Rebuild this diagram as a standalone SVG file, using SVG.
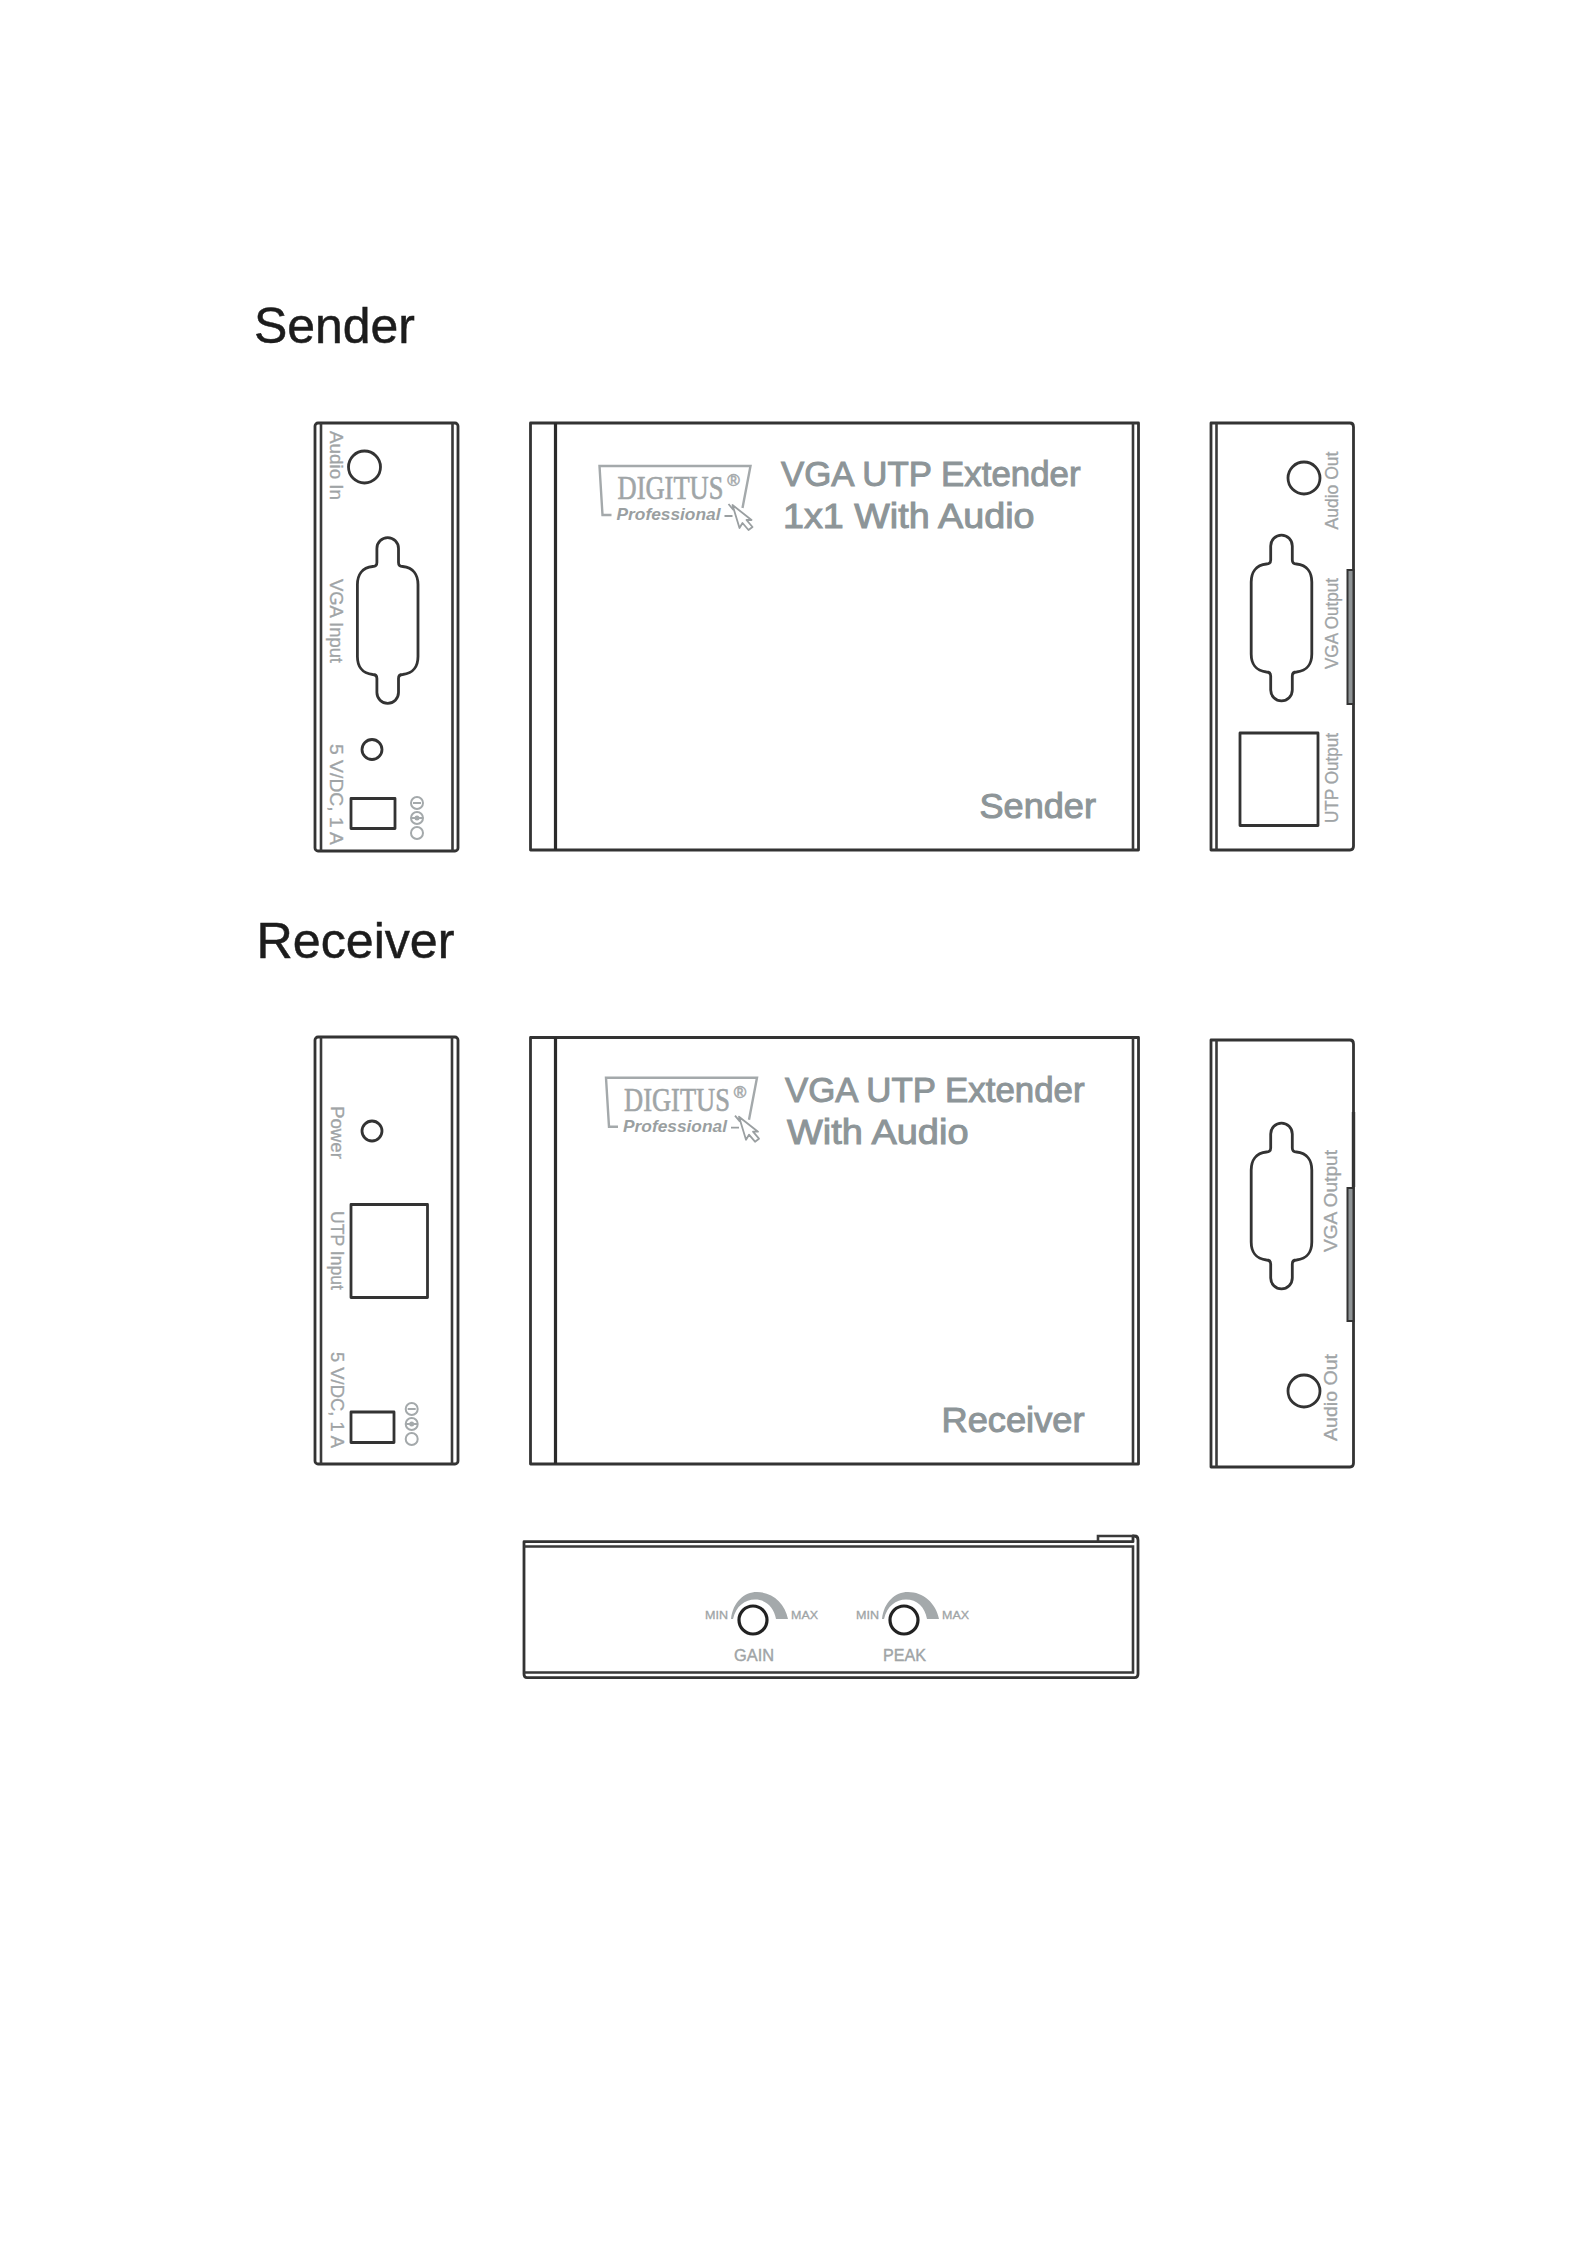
<svg xmlns="http://www.w3.org/2000/svg" xmlns:xlink="http://www.w3.org/1999/xlink" width="1587" height="2245" viewBox="0 0 1587 2245">
<style>
.l{fill:none;stroke:#333;stroke-width:2.8;stroke-linejoin:round}
.t{fill:none;stroke:#3a3a3a;stroke-width:2.6}
.s{fill:#8f9496;stroke:#333;stroke-width:2}
.h{font-family:"Liberation Sans",Arial,sans-serif;font-size:49.500px;fill:#1c1c1c;stroke:#1c1c1c;stroke-width:.5}
.c{font-family:"Liberation Sans",Arial,sans-serif;font-size:18px;fill:#a0a4a6;stroke:#a0a4a6;stroke-width:.3}
.b{font-family:"Liberation Sans",Arial,sans-serif;font-size:35px;fill:#8d9598;stroke:#8d9598;stroke-width:1}
.m{font-family:"Liberation Sans",Arial,sans-serif;font-size:11.5px;fill:#a0a4a6;stroke:#a0a4a6;stroke-width:.3}
.k{font-family:"Liberation Sans",Arial,sans-serif;font-size:17px;fill:#a0a4a6;stroke:#a0a4a6;stroke-width:.4}
.g{fill:none;stroke:#a4a9ab;stroke-width:2}
</style>
<defs>
<path id="db9" class="l" d="M-10.8-72A10.8 10.8 0 0 1 10.8-72V-58Q10.8-54 15-54C26-53 30.3-45 30.3-36V36C30.3 45 26 53 15 54Q10.8 54 10.8 58V72A10.8 10.8 0 0 1-10.8 72V58Q-10.8 54-15 54C-26 53-30.3 45-30.3 36V-36C-30.3-45-26-53-15-54Q-10.8-54-10.8-58Z"/>
<g id="pol"><circle cx="0" cy="-15" r="6" class="g"/><circle cx="0" cy="0" r="6" class="g"/><circle cx="0" cy="15" r="6" class="g"/><circle cx="0" cy="0" r="2.5" fill="#a4a9ab"/><path d="M-6 0H6M-4-15H4" class="g" stroke-width="1.4"/></g>
<g id="logo">
<path d="M611 515H602L599 466H750L742 508" fill="none" stroke="#a4a9ab" stroke-width="2.4"/>
<text x="617" y="499" font-family="'Liberation Serif',serif" font-size="33" fill="#a0a5a7" stroke="#a0a5a7" stroke-width=".6" textLength="106" lengthAdjust="spacingAndGlyphs">DIGITUS</text>
<text x="733" y="486" text-anchor="middle" font-family="'Liberation Sans',sans-serif" font-size="17" fill="#a8acae" stroke="#a8acae" stroke-width=".6">®</text>
<text x="616" y="520" font-family="'Liberation Sans',sans-serif" font-size="17" font-weight="bold" font-style="italic" fill="#9a9fa1" textLength="104" lengthAdjust="spacingAndGlyphs">Professional</text>
<path d="M724 516H732M728 504L733 510M732 505L751 520H746L752 527L748 530L742 523L739 528Z" fill="#fff" stroke="#9a9fa1" stroke-width="1.8" stroke-linejoin="round"/>
</g>
<g id="knob">
<path d="M731 1619C733 1602 744 1592 757 1592C772 1592 785 1603 788 1619H776C774 1607 766 1599.5 755 1599.5C745 1599.5 736 1606 733 1619Z" fill="#a4a9ab"/>
<circle cx="753" cy="1620" r="14" fill="#fff" stroke="#222" stroke-width="3.2"/>
<text x="705" y="1619" class="m" textLength="23" lengthAdjust="spacingAndGlyphs">MIN</text>
<text x="791" y="1619" class="m" textLength="27" lengthAdjust="spacingAndGlyphs">MAX</text>
</g>
</defs>
<rect width="1587" height="2245" fill="#fff"/>
<text id="title-sender" x="254" y="343" class="h" textLength="161" lengthAdjust="spacingAndGlyphs">Sender</text>
<text id="title-receiver" x="256.500" y="958" class="h" textLength="198" lengthAdjust="spacingAndGlyphs">Receiver</text>

<g id="sender-left">
<rect x="315" y="423" width="143" height="428" rx="3" class="l"/>
<path d="M321 423V851M452.500 423V851" class="t"/>
<circle cx="364.500" cy="467" r="16" class="l"/>
<use href="#db9" x="387.700" y="620.500"/>
<circle cx="372" cy="749.500" r="10" class="l"/>
<rect x="351" y="798.500" width="44" height="30" class="l"/>
<use href="#pol" x="417" y="818"/>
<text transform="translate(330 431) rotate(90)" class="c" textLength="69" lengthAdjust="spacingAndGlyphs">Audio In</text>
<text transform="translate(330 579) rotate(90)" class="c" textLength="84" lengthAdjust="spacingAndGlyphs">VGA Input</text>
<text transform="translate(330 744) rotate(90)" class="c" textLength="101" lengthAdjust="spacingAndGlyphs">5 V/DC, 1 A</text>
</g>

<g id="sender-main">
<rect x="530.500" y="423" width="608" height="427" class="l"/>
<path d="M555.500 423V850" fill="none" stroke="#2a2a2a" stroke-width="3.2"/>
<path d="M1133 423V850" class="t"/>
<use href="#logo" x="0.500"/>
<text x="781" y="486" class="b" textLength="299.500" lengthAdjust="spacingAndGlyphs">VGA UTP Extender</text>
<text x="783" y="528" class="b" textLength="251.500" lengthAdjust="spacingAndGlyphs">1x1 With Audio</text>
<text x="979.500" y="818" class="b" textLength="116.500" lengthAdjust="spacingAndGlyphs">Sender</text>
</g>

<g id="sender-right">
<path d="M1211 423H1350Q1353.500 423 1353.500 427V846Q1353.500 850 1350 850H1211Z" class="l"/>
<path d="M1216.500 423V850" class="t"/>
<rect x="1347.500" y="570" width="6" height="134" class="s"/>
<circle cx="1304" cy="478" r="16" class="l"/>
<use href="#db9" x="1281.500" y="618"/>
<rect x="1240" y="733" width="78" height="92.500" class="l"/>
<text transform="translate(1338 529.500) rotate(-90)" class="c" textLength="78" lengthAdjust="spacingAndGlyphs">Audio Out</text>
<text transform="translate(1338 669) rotate(-90)" class="c" textLength="91" lengthAdjust="spacingAndGlyphs">VGA Output</text>
<text transform="translate(1338 823) rotate(-90)" class="c" textLength="90" lengthAdjust="spacingAndGlyphs">UTP Output</text>
</g>

<g id="receiver-left">
<rect x="315" y="1037" width="143" height="427" rx="3" class="l"/>
<path d="M321 1037V1464M452 1037V1464" class="t"/>
<circle cx="372" cy="1131" r="10" class="l"/>
<rect x="351" y="1204.500" width="76.500" height="93" class="l"/>
<rect x="351" y="1412" width="43" height="30.500" class="l"/>
<use href="#pol" x="411.700" y="1424"/>
<text transform="translate(330.500 1106) rotate(90)" class="c" textLength="53" lengthAdjust="spacingAndGlyphs">Power</text>
<text transform="translate(330.500 1211) rotate(90)" class="c" textLength="79" lengthAdjust="spacingAndGlyphs">UTP Input</text>
<text transform="translate(330.500 1352) rotate(90)" class="c" textLength="96" lengthAdjust="spacingAndGlyphs">5 V/DC, 1 A</text>
</g>

<g id="receiver-main">
<rect x="530.500" y="1037.500" width="608" height="426.500" class="l"/>
<path d="M555.500 1037.500V1464" fill="none" stroke="#2a2a2a" stroke-width="3.2"/>
<path d="M1133 1037.500V1464" class="t"/>
<use href="#logo" x="7" y="611.700"/>
<text x="785" y="1101.500" class="b" textLength="299.500" lengthAdjust="spacingAndGlyphs">VGA UTP Extender</text>
<text x="787" y="1144" class="b" textLength="181.500" lengthAdjust="spacingAndGlyphs">With Audio</text>
<text x="941.500" y="1431.500" class="b" textLength="143" lengthAdjust="spacingAndGlyphs">Receiver</text>
</g>

<g id="receiver-right">
<path d="M1211 1040H1350Q1353.500 1040 1353.500 1044V1463Q1353.500 1467 1350 1467H1211Z" class="l"/>
<path d="M1216.500 1040V1467" class="t"/>
<path d="M1353.500 1112V1187" fill="none" stroke="#333" stroke-width="3.400"/>
<rect x="1347.500" y="1188" width="6" height="133" class="s"/>
<use href="#db9" x="1281.500" y="1206"/>
<circle cx="1304" cy="1391" r="16" class="l"/>
<text transform="translate(1337 1252) rotate(-90)" class="c" textLength="102" lengthAdjust="spacingAndGlyphs">VGA Output</text>
<text transform="translate(1337 1441) rotate(-90)" class="c" textLength="87" lengthAdjust="spacingAndGlyphs">Audio Out</text>
</g>

<g id="receiver-bottom">
<path d="M524 1541.700H1133V1536H1134.500Q1138 1536 1138 1540V1674Q1138 1677.700 1134.500 1677.700H527Q524 1677.700 524 1674Z" class="l"/>
<path d="M524 1546.500H1133V1672.500H524" class="t" stroke-width="3.200"/>
<path d="M1098 1541.700V1536H1134" class="t"/>
<use href="#knob"/>
<use href="#knob" x="151"/>
<text x="734" y="1661" class="k" textLength="40" lengthAdjust="spacingAndGlyphs">GAIN</text>
<text x="883" y="1661" class="k" textLength="43" lengthAdjust="spacingAndGlyphs">PEAK</text>
</g>
<g id="connectors"/>
</svg>
